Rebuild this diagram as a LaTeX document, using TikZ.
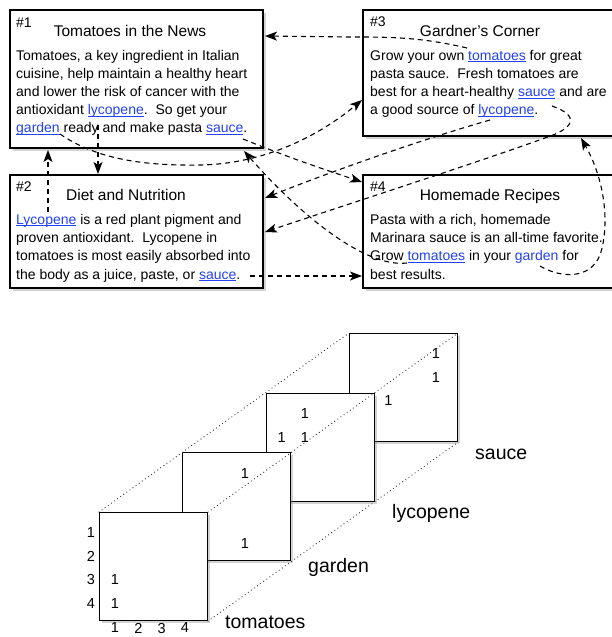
\documentclass[tikz,border=0pt]{standalone}
\usepackage{fontspec}
\setmainfont{Liberation Sans}
\usetikzlibrary{arrows.meta,shadows,calc}
\definecolor{linkblue}{RGB}{35,65,245}
\newcommand\lnk[1]{{\color{linkblue}\setbox0\hbox{#1}\rlap{\rule[-2.2pt]{\wd0}{0.8pt}}\box0}}
\newcommand\plnk[1]{{\color{linkblue}#1}}
\frenchspacing
\begin{document}
\begin{tikzpicture}[x=1pt,y=-1pt,
  box/.style={draw, line width=1.1pt, fill=white, inner sep=0pt,
    drop shadow={shadow xshift=2.5pt, shadow yshift=-2.5pt, opacity=0.35}},
  body/.style={anchor=base west, inner sep=0pt, font=\fontsize{14}{17}\selectfont},
  ttl/.style={anchor=base, inner sep=0pt, font=\fontsize{15.5}{18}\selectfont},
  hsh/.style={anchor=base west, inner sep=0pt, font=\fontsize{14}{17}\selectfont},
  conn/.style={line width=1.1pt, dash pattern=on 5pt off 4pt,
    -{Stealth[length=12pt,width=9pt,inset=3pt]}},
  mat/.style={draw, line width=1.1pt, fill=white, minimum size=108pt, inner sep=0pt,
    anchor=north west,
    drop shadow={shadow xshift=2.5pt, shadow yshift=-2.5pt, opacity=0.35}},
  dig/.style={inner sep=0pt, font=\fontsize{14.5}{17}\selectfont},
  lbl/.style={anchor=base west, inner sep=0pt, font=\fontsize{19.5}{22}\selectfont},
  dotl/.style={line width=1.2pt, line cap=round, dash pattern=on 0pt off 3.8pt, black!85}]
\useasboundingbox (0,0) rectangle (612,637);

% ---------- text boxes ----------
\node[box, minimum width=253pt, minimum height=138pt] (b1) at (136.5,79) {};
\node[box, minimum width=253pt, minimum height=113pt] (b2) at (136.5,231.5) {};
\node[box, minimum width=259pt, minimum height=126pt] (b3) at (492.5,73) {};
\node[box, minimum width=259pt, minimum height=113pt] (b4) at (492.5,231.5) {};

% box 1
\node[hsh] (h1) at (16,27.3) {\#1};
\node[ttl] (t1) at (130,36) {Tomatoes in the News};
\node[body] (l11) at (16,60) {Tomatoes, a key ingredient in Italian};
\node[body] (l12) at (16,78.2) {cuisine, help maintain a healthy heart};
\node[body] (l13) at (16,96.4) {and lower the risk of cancer with the};
\node[body] (l14) at (16,114.5) {antioxidant \lnk{lycopene}.\ \ So get your};
\node[body] (l15) at (16,132.6) {\lnk{garden} ready and make pasta \lnk{sauce}.};

% box 2
\node[hsh] (h2) at (16,191.7) {\#2};
\node[ttl] (t2) at (126,200.7) {Diet and Nutrition};
\node[body] (l21) at (16,224) {\lnk{Lycopene} is a red plant pigment and};
\node[body] (l22) at (16,242.3) {proven antioxidant.\ \ Lycopene in};
\node[body] (l23) at (16,260.6) {tomatoes is most easily absorbed into};
\node[body] (l24) at (16,279) {the body as a juice, paste, or \lnk{sauce}.};

% box 3
\node[hsh] (h3) at (370,27) {\#3};
\node[ttl] (t3) at (480,36) {Gardner's Corner};
\node[body] (l31) at (370,60) {Grow your own \lnk{tomatoes} for great};
\node[body] (l32) at (370,78.2) {pasta sauce.\ \ Fresh tomatoes are};
\node[body] (l33) at (370,96.5) {best for a heart-healthy \lnk{sauce} and are};
\node[body] (l34) at (370,114.6) {a good source of \lnk{lycopene}.};

% box 4
\node[hsh] (h4) at (370,191.7) {\#4};
\node[ttl] (t4) at (490,200.7) {Homemade Recipes};
\node[body] (l41) at (370,224) {Pasta with a rich, homemade};
\node[body] (l42) at (370,242.3) {Marinara sauce is an all-time favorite.};
\node[body] (l43) at (370,260.6) {Grow \lnk{tomatoes} in your \plnk{garden} for};
\node[body] (l44) at (370,279) {best results.};

% ---------- connector end points ----------
\coordinate (s1) at (467,48);   \coordinate (e1) at (265,36);
\coordinate (s2) at (60,134);   \coordinate (e2) at (362,100);
\coordinate (s3) at (243,139);  \coordinate (e3) at (362,182);
\coordinate (s4) at (407,263);  \coordinate (e4) at (244,151);
\coordinate (s5) at (540,266);  \coordinate (e5) at (581,138);
\coordinate (sA) at (490,120);  \coordinate (eA) at (265,198);
\coordinate (sB) at (552,106);  \coordinate (eB) at (265,232);
\coordinate (s7) at (250,276);  \coordinate (e7) at (362,276);
\coordinate (s8) at (48,212);   \coordinate (e8) at (48,150);
\coordinate (s9) at (98,125);   \coordinate (e9) at (98,174);

\draw[conn] (s1) .. controls (420,37) and (390,37) .. (350,37) -- (e1);
\draw[conn] (s2) .. controls (95,158) and (140,166) .. (200,165)
               .. controls (265,164) and (320,135) .. (e2);
\draw[conn] (s3) .. controls (290,158) and (320,168) .. (e3);
\draw[conn] (s4) .. controls (365,268) and (300,215) .. (e4);
\draw[conn] (s5) .. controls (560,278) and (590,280) .. (600,255)
               .. controls (610,225) and (605,180) .. (e5);
\draw[conn] (sA) .. controls (420,140) and (330,172) .. (eA);
\draw[conn] (sB) .. controls (580,116) and (575,128) .. (545,138)
               .. controls (470,165) and (330,210) .. (eB);
\draw[conn] (s7) -- (e7);
\draw[conn] (s8) -- (e8);
\draw[conn] (s9) -- (e9);

% ---------- term-document tensor ----------
\node[mat] (mS) at (349,333) {};
\node[mat] (mL) at (265.6,392.6) {};
\node[mat] (mG) at (182.3,452.3) {};
\node[mat] (mT) at (99,512) {};

\draw[dotl] (mT.north west) -- (mS.north west);
\draw[dotl] (mT.north east) -- (mS.north east);
\draw[dotl] (mT.south east) -- (mS.south east);

% row / column labels
\foreach \r/\dy in {1/21,2/44.5,3/68,4/91.5}
  \node[dig] (rl\r) at ($(mT.north west)+(-8,\dy)$) {\r};
\foreach \c/\dx in {1/16,2/39.3,3/62.6,4/86}
  \node[dig] (cl\c) at ($(mT.north west)+(\dx,116)$) {\c};

% entries
\node[dig] (t31) at ($(mT.north west)+(16,68)$) {1};
\node[dig] (t41) at ($(mT.north west)+(16,91.5)$) {1};
\node[dig] (g13) at ($(mG.north west)+(62.6,21)$) {1};
\node[dig] (g43) at ($(mG.north west)+(62.6,91.5)$) {1};
\node[dig] (y12) at ($(mL.north west)+(39.3,21)$) {1};
\node[dig] (y21) at ($(mL.north west)+(16,44.5)$) {1};
\node[dig] (y22) at ($(mL.north west)+(39.3,44.5)$) {1};
\node[dig] (s14) at ($(mS.north west)+(87,21)$) {1};
\node[dig] (s24) at ($(mS.north west)+(87,44.5)$) {1};
\node[dig] (s32) at ($(mS.north west)+(39.3,68)$) {1};

% slice labels
\node[lbl] (nT) at (225,628) {tomatoes};
\node[lbl] (nG) at (308,572) {garden};
\node[lbl] (nL) at (392,518) {lycopene};
\node[lbl] (nS) at (475,459) {sauce};
\end{tikzpicture}
\end{document}
